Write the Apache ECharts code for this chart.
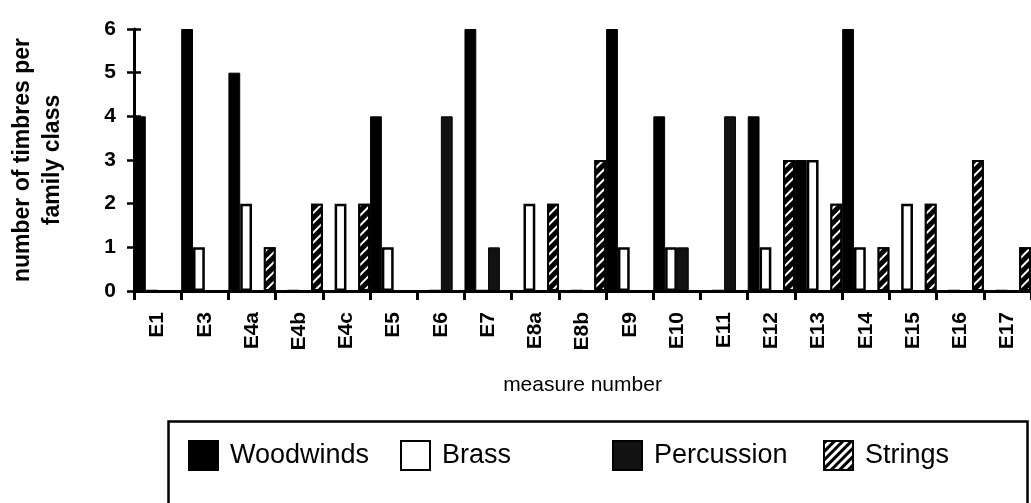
<!DOCTYPE html>
<html>
<head>
<meta charset="utf-8">
<script src="https://cdn.jsdelivr.net/npm/echarts@6/dist/echarts.min.js"></script>
<style>
html,body{margin:0;padding:0;background:#fff;}
#chart{width:1031px;height:503px;}
</style>
</head>
<body>
<div id="chart"></div>
<script>
const categories = ['E1','E3','E4a','E4b','E4c','E5','E6','E7','E8a','E8b','E9','E10','E11','E12','E13','E14','E15','E16','E17'];
const woodwinds  = [4,6,5,0,0,4,0,6,0,0,6,4,0,4,3,6,0,0,0];
const brass      = [0,1,2,0,2,1,0,0,2,0,1,1,0,1,3,1,2,0,0];
const percussion = [0,0,0,0,0,0,4,1,0,0,0,1,4,0,0,0,0,0,0];
const strings    = [0,0,1,2,2,0,0,0,2,3,0,0,0,3,2,1,2,3,1];
const yTicks = [0,1,2,3,4,5,6];

const FONT = '"Liberation Sans", Arial, Helvetica, sans-serif';
const chart = echarts.init(document.getElementById('chart'), null, {renderer:'canvas'});

const stripeDecal = (col) => ({
  symbol: 'rect', symbolSize: 1, color: col,
  dashArrayX: [1, 0], dashArrayY: [2, 5], rotation: -Math.PI / 4
});

const series = [
  {name:'Woodwinds', data: woodwinds, itemStyle:{color:'#000', borderColor:'#000', borderWidth:1}},
  {name:'Brass', data: brass, itemStyle:{color:'#fff', borderColor:'#000', borderWidth:2.5}},
  {name:'Percussion', data: percussion, itemStyle:{color:'#121212', borderColor:'#000', borderWidth:1}},
  {name:'Strings', data: strings, itemStyle:{color:'#000', borderColor:'#000', borderWidth:2, decal: stripeDecal('#fff')}}
].map(s => Object.assign({type:'bar', barGap:'0%', barCategoryGap:'0%', animation:false, xAxisIndex:0, yAxisIndex:0}, s));

function leg(name, left, extra) {
  const d = Object.assign({name: name}, extra || {});
  return {
    data: [d], left: left, top: 440, icon: 'rect', itemWidth: 29, itemHeight: 29,
    padding: 0, selectedMode: false,
    textStyle: {fontFamily: FONT, fontSize: 27, color: '#000', padding: [0,0,0,7]}
  };
}

chart.setOption({
  animation: false,
  grid: {left: 124, right: -11, top: 29, bottom: 212, containLabel: false},
  xAxis: [{
    type: 'category', data: categories, boundaryGap: true,
    axisLine: {show: true, lineStyle: {color:'#000', width: 3}},
    axisTick: {show: true, length: 9, lineStyle: {color:'#000', width: 3}},
    axisLabel: {rotate: 90, margin: 21, fontFamily: FONT, fontSize: 21, fontWeight: 'bold', color: '#000', interval: 0},
    name: 'measure number', nameLocation: 'middle', nameGap: 84,
    nameTextStyle: {fontFamily: FONT, fontSize: 21, color: '#000'}
  }],
  yAxis: [{
    type: 'value', min: yTicks[0], max: yTicks[yTicks.length-1], interval: 1,
    axisLine: {show: true, lineStyle: {color:'#000', width: 3}},
    axisTick: {show: true, length: 7, lineStyle: {color:'#000', width: 2.5}},
    splitLine: {show: false},
    axisLabel: {margin: 18, fontFamily: FONT, fontSize: 21, fontWeight: 'bold', color: '#000'},
    name: 'number of timbres per\nfamily class', nameLocation: 'middle', nameGap: 66, nameRotate: 90,
    nameTextStyle: {fontFamily: FONT, fontSize: 23, fontWeight: 'bold', color: '#000', lineHeight: 30}
  }, {
    type: 'value', min: yTicks[0], max: yTicks[yTicks.length-1], interval: 1, position: 'left',
    axisLine: {show: false}, splitLine: {show: false}, axisLabel: {show: false},
    axisTick: {show: true, inside: true, length: 7, lineStyle: {color:'#000', width: 2.5}}
  }],
  legend: [
    leg('Woodwinds', 188),
    leg('Brass', 400),
    leg('Percussion', 612),
    leg('Strings', 823, {itemStyle: {color:'#fff', borderColor:'#000', borderWidth:2, decal: {symbol:'rect', symbolSize:1, color:'#000', dashArrayX:[1,0], dashArrayY:[3,3], rotation:-Math.PI/4}}})
  ],
  graphic: [{
    type: 'rect', left: 166, top: 419, z: -1,
    shape: {width: 859, height: 120},
    style: {fill: 'none', stroke: '#000', lineWidth: 2.5}
  }],
  series: series
});
</script>
</body>
</html>
